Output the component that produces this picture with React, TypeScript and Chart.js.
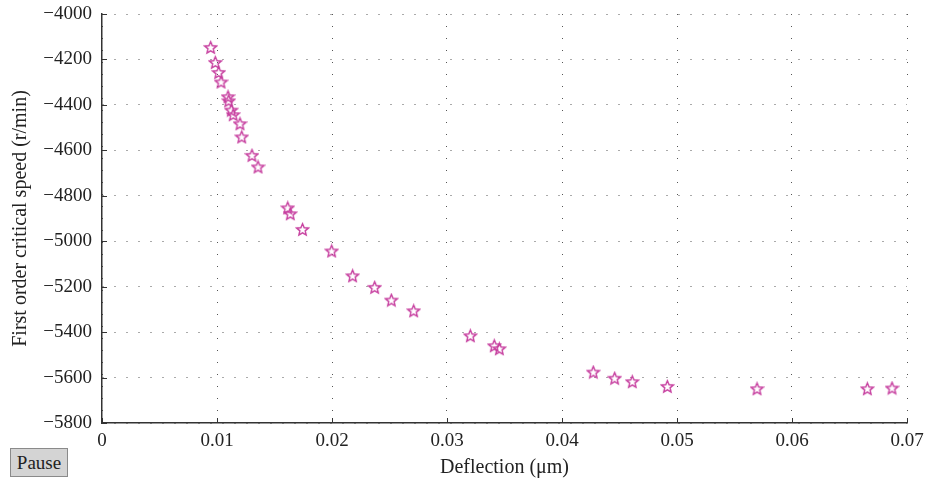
import React, { useEffect, useRef } from "react";
import { Chart, registerables } from "chart.js";
Chart.register(...registerables);

const deflection = [
  0.00945, 0.00985, 0.01015, 0.01035, 0.01096, 0.01102, 0.01124, 0.01141, 0.012, 0.01215,
  0.01304, 0.01357, 0.01615, 0.01637, 0.01744, 0.01997, 0.02179, 0.02371, 0.02516, 0.0271,
  0.03203, 0.03411, 0.03455, 0.04272, 0.04458, 0.04611, 0.04916, 0.05696, 0.06655, 0.0687,
];
const criticalSpeed = [
  -4147, -4213, -4257, -4299, -4364, -4382, -4423, -4443, -4483, -4541,
  -4622, -4673, -4853, -4879, -4948, -5043, -5152, -5203, -5259, -5306,
  -5416, -5460, -5473, -5576, -5603, -5618, -5639, -5649, -5649, -5646,
];
const xTicks = [0, 0.01, 0.02, 0.03, 0.04, 0.05, 0.06, 0.07];
const yTicks = [-5800, -5600, -5400, -5200, -5000, -4800, -4600, -4400, -4200, -4000];

const FONT = '"Liberation Serif", "Times New Roman", serif';
const MARK = "#c63d9e";

function makeStar(color: string) {
  const c = document.createElement("canvas");
  c.width = 15;
  c.height = 15;
  const ctx = c.getContext("2d")!;
  ctx.strokeStyle = color;
  ctx.lineWidth = 1.4;
  ctx.lineJoin = "miter";
  ctx.beginPath();
  for (let i = 0; i < 10; i++) {
    const r = i % 2 === 0 ? 6.2 : 2.8;
    const a = -Math.PI / 2 + (i * Math.PI) / 5;
    const x = 7.5 + r * Math.cos(a);
    const y = 8 + r * Math.sin(a);
    if (i === 0) ctx.moveTo(x, y);
    else ctx.lineTo(x, y);
  }
  ctx.closePath();
  ctx.stroke();
  return c;
}

const innerTicks = {
  id: "innerTicks",
  afterDraw(chart: any) {
    const { ctx, chartArea, scales } = chart;
    ctx.save();
    ctx.strokeStyle = "#333";
    ctx.lineWidth = 1;
    ctx.beginPath();
    xTicks.forEach((v) => {
      const x = Math.round(scales.x.getPixelForValue(v)) + 0.5;
      ctx.moveTo(x, chartArea.bottom);
      ctx.lineTo(x, chartArea.bottom - 5);
    });
    yTicks.forEach((v) => {
      const y = Math.round(scales.y.getPixelForValue(v)) + 0.5;
      ctx.moveTo(chartArea.left, y);
      ctx.lineTo(chartArea.left + 5, y);
    });
    ctx.stroke();
    ctx.restore();
  },
};

export default function App() {
  const ref = useRef<HTMLCanvasElement | null>(null);
  useEffect(() => {
    if (!ref.current) return;
    const star = makeStar(MARK);
    const chart = new Chart(ref.current, {
      type: "scatter",
      data: {
        datasets: [
          {
            label: "Critical speed",
            data: deflection.map((x, i) => ({ x, y: criticalSpeed[i] })),
            pointStyle: star as any,
            borderColor: MARK,
            backgroundColor: MARK,
            showLine: false,
          },
        ],
      },
      options: {
        animation: false,
        responsive: false,
        layout: { padding: { top: 14, right: 19, left: 0, bottom: 0 } },
        plugins: { legend: { display: false }, tooltip: { enabled: false } },
        scales: {
          x: {
            type: "linear",
            min: 0,
            max: 0.07,
            afterBuildTicks: (s: any) => {
              s.ticks = xTicks.map((v) => ({ value: v }));
            },
            afterFit: (s: any) => {
              s.height = 62;
              s.paddingLeft = 0;
              s.paddingRight = 0;
            },
            ticks: {
              padding: 7,
              color: "#222",
              font: { family: FONT, size: 19 },
              callback: (v: any) => (v === 0 ? "0" : String(v)),
            },
            grid: { color: "#555", lineWidth: 1, drawTicks: false },
            border: { display: true, color: "#333", width: 1.5, dash: [1, 11] },
            title: {
              display: true,
              text: "Deflection (μm)",
              color: "#222",
              font: { family: FONT, size: 20 },
              padding: { top: 0, bottom: 5 },
            },
          },
          y: {
            type: "linear",
            min: -5800,
            max: -4000,
            afterBuildTicks: (s: any) => {
              s.ticks = yTicks.map((v) => ({ value: v }));
            },
            afterFit: (s: any) => {
              s.width = 102;
              s.paddingTop = 0;
              s.paddingBottom = 0;
            },
            ticks: {
              padding: 10,
              color: "#222",
              font: { family: FONT, size: 19 },
              callback: (v: any) => (v < 0 ? "\u2212" + Math.abs(v) : String(v)),
            },
            grid: { color: "#555", lineWidth: 1, drawTicks: false },
            border: { display: true, color: "#333", width: 1.5, dash: [1, 11] },
            title: {
              display: true,
              text: "First order critical speed (r/min)",
              color: "#222",
              font: { family: FONT, size: 20 },
              padding: { top: 9, bottom: 0 },
            },
          },
        },
      },
      plugins: [innerTicks],
    });
    return () => chart.destroy();
  }, []);

  return (
    <div style={{ position: "absolute", left: 0, top: 0, width: 926, height: 485, background: "#fff" }}>
      <canvas ref={ref} width={926} height={485} style={{ display: "block" }} />
      <button
        style={{
          position: "absolute",
          left: 10,
          top: 448,
          width: 58,
          height: 29,
          padding: 0,
          font: `19px ${FONT}`,
          color: "#222",
          background: "#d4d4d4",
          border: "1px solid #8a8a8a",
        }}
      >
        Pause
      </button>
    </div>
  );
}
